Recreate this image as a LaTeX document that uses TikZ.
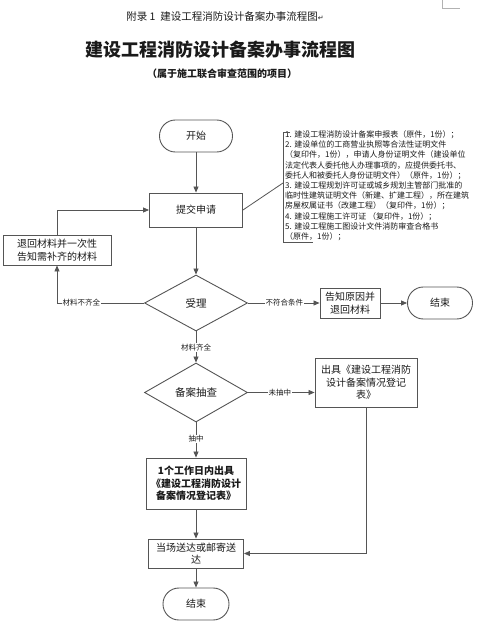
\documentclass[tikz,border=0pt]{standalone}
\usepackage{fontspec}
\setmainfont{Noto Sans CJK SC}
\newfontfamily\dejavu{DejaVu Sans}
\usetikzlibrary{arrows.meta,shapes.geometric}
\definecolor{ln}{HTML}{555555}
\definecolor{txt}{HTML}{1A1A1A}
\begin{document}
\begin{tikzpicture}[x=1pt,y=-1pt,
  every node/.style={text=txt},
  line/.style={draw=ln, line width=0.8pt},
  arr/.style={line, -{Triangle[length=6pt,width=5pt]}},
  box/.style={draw=ln, line width=0.9pt, inner sep=0pt, align=center, font=\fontsize{10}{12.5}\selectfont},
  term/.style={box, rounded corners=15.9pt},
  dia/.style={diamond, draw=ln, line width=0.9pt, inner sep=0pt, font=\fontsize{10.5}{12}\selectfont},
  lab/.style={fill=white, inner sep=1pt, font=\fontsize{7.5}{9}\selectfont},
]
\useasboundingbox (0,0) rectangle (484,628);
\draw[gray!60, line width=0.6pt] (442,0) -- (442,8) -- (460,8);

\node[font=\fontsize{10.5}{12}\selectfont] (hdr) at (225,17) {附录 1\ \ 建设工程消防设计备案办事流程图{\dejavu\fontsize{7}{8}\selectfont ↵}};
\node[font=\bfseries\fontsize{18}{20}\selectfont] (title) at (220,50) {建设工程消防设计备案办事流程图};
\node[font=\bfseries\fontsize{10}{12}\selectfont] (sub) at (222,74) {（属于施工联合审查范围的项目）};

\node[term, minimum width=73, minimum height=32] (start) at (196,136) {开始};
\node[box, minimum width=93, minimum height=34] (submit) at (196,210) {提交申请};
\node[box, minimum width=108, minimum height=30] (ret) at (57,250) {退回材料并一次性\\告知需补齐的材料};
\node[dia, minimum width=103, minimum height=56] (accept) at (196,303) {受理};
\node[box, minimum width=60, minimum height=30] (reject) at (350,303) {告知原因并\\退回材料};
\node[term, minimum width=65, minimum height=32] (end1) at (440,303) {结束};
\node[dia, minimum width=103, minimum height=59] (check) at (196,392.5) {备案抽查};
\node[box, minimum width=102, minimum height=49] (issue) at (366,382.5) {出具《建设工程消防\\设计备案情况登记\\表》};
\node[box, minimum width=100, minimum height=51, font=\bfseries\fontsize{10}{12.5}\selectfont] (issue1) at (196,483.5) {1个工作日内出具\\《建设工程消防设计\\备案情况登记表》};
\node[box, minimum width=95, minimum height=29] (deliver) at (196,553.5) {当场送达或邮寄送\\达};
\node[term, minimum width=66, minimum height=32] (end2) at (196,604) {结束};

\node[anchor=north west, inner sep=0pt, align=left, font=\fontsize{8}{10.2}\selectfont] (docs) at (285,130.5) {%
1. 建设工程消防设计备案申报表（原件，1份）；\\
2. 建设单位的工商营业执照等合法性证明文件\\
（复印件，1份），申请人身份证明文件（建设单位\\
法定代表人委托他人办理事项的，应提供委托书、\\
委托人和被委托人身份证明文件）（原件，1份）；\\
3. 建设工程规划许可证或城乡规划主管部门批准的\\
临时性建筑证明文件（新建、扩建工程），所在建筑\\
房屋权属证书（改建工程）（复印件，1份）；\\
4. 建设工程施工许可证\ （复印件，1份）；\\
5. 建设工程施工图设计文件消防审查合格书\\
（原件，1份）；};
\coordinate (brk) at (283,183);
\draw[line] (290,132) -- (283,132) -- (283,242) -- (313,242);
\draw[line] (submit.east) -- (brk);

\draw[arr] (start) -- (submit);
\draw[arr] (submit) -- (accept);
\draw[arr] (ret.north) |- (submit.west);
\draw[arr] (accept.west) -- node[lab,pos=0.72]{材料不齐全} (accept.west -| ret.south) -- (ret.south);
\draw[arr] (accept.east) -- node[lab,pos=0.51]{不符合条件} (reject.west);
\draw[arr] (reject.east) -- (end1.west);
\draw[arr] (accept.south) -- node[lab,pos=0.53]{材料齐全} (check.north);
\draw[arr] (check.east) -- node[lab,pos=0.48]{未抽中} (check.east -| issue.west);
\draw[arr] (check.south) -- node[lab,pos=0.47]{抽中} (issue1.north);
\draw[arr] (issue1) -- (deliver);
\draw[arr] (issue.south) |- (deliver.east);
\draw[arr] (deliver) -- (end2);
\end{tikzpicture}
\end{document}
